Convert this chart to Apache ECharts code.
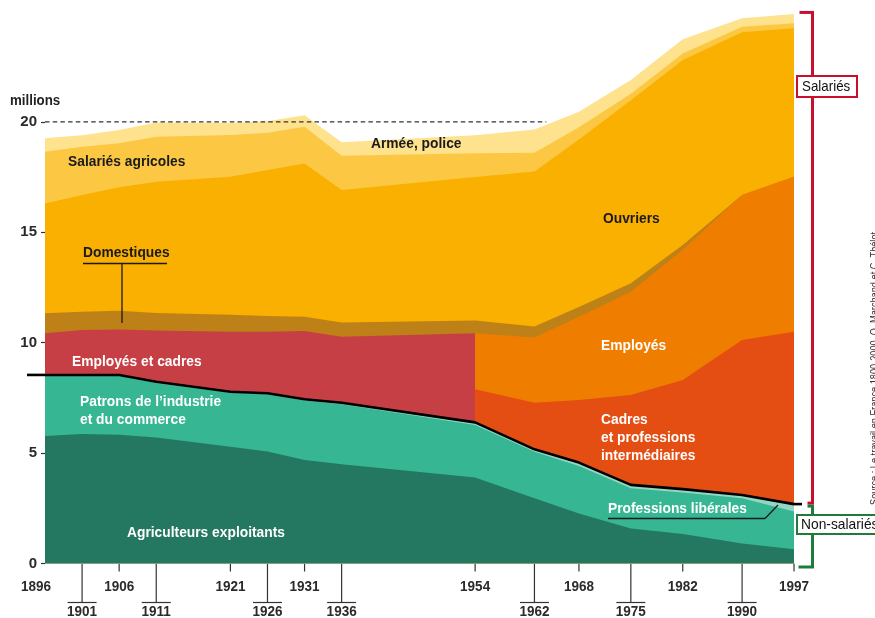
<!DOCTYPE html>
<html>
<head>
<meta charset="utf-8">
<script src="https://cdn.jsdelivr.net/npm/echarts@6/dist/echarts.min.js"></script>
<style>html,body{margin:0;padding:0;background:#fff}#c{width:875px;height:618px}</style>
</head>
<body>
<div id="c"></div>
<script>
// ---- data (millions) ----
const YEARS = [1896,1901,1906,1911,1921,1926,1931,1936,1954,1962,1968,1975,1982,1990,1997];
const AGRICULTEURS = [5.77,5.86,5.83,5.71,5.29,5.07,4.69,4.50,3.90,2.95,2.27,1.59,1.34,0.91,0.64];
const PATRONS = [2.72,2.63,2.66,2.47,2.44,2.59,2.69,2.71,2.37,2.11,2.15,1.82,1.87,2.04,1.71];
const LIBERALES = [0.05,0.05,0.05,0.05,0.05,0.05,0.06,0.07,0.12,0.11,0.15,0.15,0.16,0.15,0.34];
const EMPLOYES_CADRES = [1.89,2.03,2.06,2.32,2.72,2.79,3.09,2.99,4.04,null,null,null,null,null,null];
const CADRES = [null,null,null,null,null,null,null,null,1.50,2.11,2.83,4.07,4.94,7.02,7.81];
const EMPLOYES = [null,null,null,null,null,null,null,null,2.54,2.95,3.78,4.68,5.90,6.57,7.02];
const DOMESTIQUES = [0.90,0.83,0.85,0.80,0.77,0.71,0.65,0.64,0.57,0.50,0.44,0.38,0.21,0,0];
const OUVRIERS = [4.98,5.29,5.59,5.94,6.25,6.61,6.94,6.01,6.50,7.02,7.58,8.29,8.38,7.37,6.72];
const SALARIES_AGRICOLES = [2.34,2.19,1.99,2.04,1.89,1.69,1.66,1.55,1.08,0.85,0.56,0.30,0.30,0.25,0.23];
const ARMEE_POLICE = [0.61,0.52,0.60,0.64,0.54,0.52,0.52,0.61,0.82,1.06,0.70,0.62,0.64,0.38,0.42];

const TICKS_UPPER = [1896,1906,1921,1931,1954,1968,1982,1997];
const TICKS_LOWER = [1901,1911,1926,1936,1962,1975,1990];
const Y_LABELS = [0,5,10,15,20];
const REF_LEVEL = 20;
const REF_END = 1963.6;

const X_MIN = 1896, X_MAX = 1997;
const FONT = '"Liberation Sans", Arial, sans-serif';

// ---- cumulative boundaries ----
const cum = {agri:[],pat:[],lib:[],empc:[],cad:[],emp:[],dom:[],ouv:[],sa:[],arm:[]};
YEARS.forEach((y,i)=>{
  let s = AGRICULTEURS[i]; cum.agri.push([y,s]);
  s += PATRONS[i]; cum.pat.push([y,s]);
  s += LIBERALES[i]; cum.lib.push([y,s]);
  const base = s;
  let top = base;
  if (EMPLOYES_CADRES[i] != null) { top = base + EMPLOYES_CADRES[i]; cum.empc.push([y, top]); }
  if (CADRES[i] != null) {
    const c = base + CADRES[i]; cum.cad.push([y,c]);
    top = c + EMPLOYES[i]; cum.emp.push([y, top]);
  }
  s = top + DOMESTIQUES[i]; cum.dom.push([y,s]);
  s += OUVRIERS[i]; cum.ouv.push([y,s]);
  s += SALARIES_AGRICOLES[i]; cum.sa.push([y,s]);
  s += ARMEE_POLICE[i]; cum.arm.push([y,s]);
});

function area(name, data, color){
  return {type:'line', name, data, symbol:'none', smooth:false,
    lineStyle:{width:0, color}, itemStyle:{color}, areaStyle:{color, opacity:1}, silent:true};
}

const tickData = TICKS_UPPER.map(y=>[y,0,0]).concat(TICKS_LOWER.map(y=>[y,0,1]));
const AXIS_FONT = 'bold 15px ' + FONT;

const chart = echarts.init(document.getElementById('c'), null, {renderer:'canvas', width:875, height:618});
chart.setOption({
  animation:false,
  backgroundColor:'#fff',
  grid:{left:45, right:81, top:11.5, bottom:54.5},
  xAxis:{type:'value', min:X_MIN, max:X_MAX, axisLine:{show:false}, axisTick:{show:false},
    axisLabel:{show:false}, splitLine:{show:false}},
  yAxis:{type:'value', min:0, max:25, interval:5,
    axisLine:{show:false}, splitLine:{show:false},
    axisTick:{show:true, length:4, lineStyle:{color:'#333', width:1.2}, customValues:Y_LABELS},
    axisLabel:{color:'#2a2a2a', fontSize:15, fontWeight:'bold', fontFamily:FONT, margin:8, customValues:Y_LABELS,
      formatter:v=> (Y_LABELS.indexOf(v)>=0 ? String(v) : '')}},
  series:[
    {type:'line', name:'ref', data:[[X_MIN,REF_LEVEL],[REF_END,REF_LEVEL]], symbol:'none',
      lineStyle:{color:'#333', width:1.3, type:[4.5,3.2]}, silent:true},
    area('Armée, police', cum.arm, '#FEE28E'),
    area('Salariés agricoles', cum.sa, '#FCC843'),
    area('Ouvriers', cum.ouv, '#F9B000'),
    area('Domestiques', cum.dom, '#BD8118'),
    area('Employés et cadres', cum.empc, '#C63F45'),
    area('Employés', cum.emp, '#EE7D00'),
    area('Cadres et professions intermédiaires', cum.cad, '#E44E12'),
    area('Professions libérales', cum.lib, '#93D6C1'),
    area('Patrons de l’industrie et du commerce', cum.pat, '#36B693'),
    area('Agriculteurs exploitants', cum.agri, '#247760'),
    {type:'line', name:'Non-salariés', data:cum.lib, symbol:'none', lineStyle:{color:'#000', width:2.6}, silent:true},
    {type:'custom', name:'ticks', data:tickData, encode:{x:0,y:1}, silent:true, clip:false,
      renderItem:function(params, api){
        const yr = api.value(0), row = api.value(2);
        const p = api.coord([yr, 0]); const x = p[0], y0 = p[1];
        const ch = [];
        const ls = {stroke:'#333', lineWidth:1.2};
        if (row === 0) {
          if (yr !== X_MIN) ch.push({type:'line', shape:{x1:x,y1:y0,x2:x,y2:y0+8}, style:ls});
          ch.push({type:'text', x: yr===X_MIN ? x-9 : x, y:y0+23, scaleX:0.9,
            style:{text:String(yr), font:AXIS_FONT, fill:'#2a2a2a', align:'center', verticalAlign:'middle'}});
        } else {
          ch.push({type:'line', shape:{x1:x,y1:y0,x2:x,y2:y0+39}, style:ls});
          ch.push({type:'line', shape:{x1:x-14.5,y1:y0+39,x2:x+14.5,y2:y0+39}, style:ls});
          ch.push({type:'text', x:x, y:y0+48.5, scaleX:0.9,
            style:{text:String(yr), font:AXIS_FONT, fill:'#2a2a2a', align:'center', verticalAlign:'middle'}});
        }
        return {type:'group', children:ch};
      }}
  ]
});

// ---- annotations ----
function T(text, x, cy, color, opt){
  opt = opt || {};
  return {type:'text', x:x, y:cy, scaleX: opt.sx || 0.92, z: opt.z || 100,
    style:{text:text, font:(opt.weight||'bold')+' '+(opt.size||15)+'px '+FONT, fill:color,
      align:'left', verticalAlign:'middle', lineHeight: opt.lh || 18}};
}
function L(x1,y1,x2,y2,color,w){
  return {type:'line', z:100, shape:{x1,y1,x2,y2}, style:{stroke:color, lineWidth:w||1.3}};
}
const dark = '#1a1a1a', white = '#ffffff';
const last = YEARS.length-1;
const pTotal = chart.convertToPixel({gridIndex:0}, cum.arm[last]);
const pBlackR = chart.convertToPixel({gridIndex:0}, cum.lib[last]);
const pBlackL = chart.convertToPixel({gridIndex:0}, cum.lib[0]);
const pZero = chart.convertToPixel({gridIndex:0}, [X_MAX, 0]);
const RED = '#C8102E', GREEN = '#1E7B3A';
const bx = pZero[0] + 18.5;

chart.setOption({graphic:[
  T('millions', 10, 101.5, '#222', {size:14, sx:0.95}),
  T('Salariés agricoles', 68, 162, dark),
  T('Armée, police', 371, 144, dark),
  T('Domestiques', 83, 253, dark),
  L(83, 263.5, 167, 263.5, dark, 1.3),
  L(122, 263.5, 122, 323, dark, 1.3),
  T('Ouvriers', 603, 219, dark),
  T('Employés et cadres', 72, 362, white),
  T('Patrons de l’industrie', 80, 402, white),
  T('et du commerce', 80, 420, white),
  T('Employés', 601, 346, white),
  T('Cadres', 601, 420, white),
  T('et professions', 601, 438, white),
  T('intermédiaires', 601, 456, white),
  T('Professions libérales', 608, 509, white),
  L(608, 518.5, 765, 518.5, dark, 1.3),
  L(765, 518.5, 778, 505, dark, 1.3),
  T('Agriculteurs exploitants', 127, 533, white),
  // black line extensions
  L(pBlackL[0]-18, pBlackL[1], pBlackL[0], pBlackL[1], '#000', 2.6),
  L(pBlackR[0], pBlackR[1], pBlackR[0]+8, pBlackR[1], '#000', 2.6),
  // red bracket
  L(bx-13, pTotal[1]-1.5, bx+1.5, pTotal[1]-1.5, RED, 3),
  L(bx, pTotal[1]-1.5, bx, pBlackR[1]-1, RED, 3),
  L(bx-5, pBlackR[1]-1, bx+1.5, pBlackR[1]-1, RED, 3),
  // green bracket
  L(bx-5, pBlackR[1]+2, bx+1.5, pBlackR[1]+2, GREEN, 3),
  L(bx, pBlackR[1]+2, bx, pZero[1]+3.5, GREEN, 3),
  L(bx-14, pZero[1]+3.5, bx+1.5, pZero[1]+3.5, GREEN, 3),
  {type:'rect', z:101, shape:{x:797, y:76, width:60, height:21}, style:{fill:'#fff', stroke:RED, lineWidth:2}},
  T('Salariés', 802, 87, '#111', {weight:'normal', size:15, sx:0.89, z:102}),
  {type:'rect', z:101, shape:{x:797, y:515, width:100, height:19}, style:{fill:'#fff', stroke:GREEN, lineWidth:2}},
  T('Non-salariés', 801, 525, '#111', {weight:'normal', size:15, sx:0.92, z:102}),
  // rotated source note, partly cut by the right edge as in the reference
  {type:'text', x:875.5, y:505, rotation:Math.PI/2, scaleX:0.92, z:100,
    style:{text:'Source : Le travail en France 1800-2000, O. Marchand et C. Thélot', font:'10px '+FONT,
      fill:'#333', align:'left', verticalAlign:'middle'}}
]});
</script>
</body>
</html>
